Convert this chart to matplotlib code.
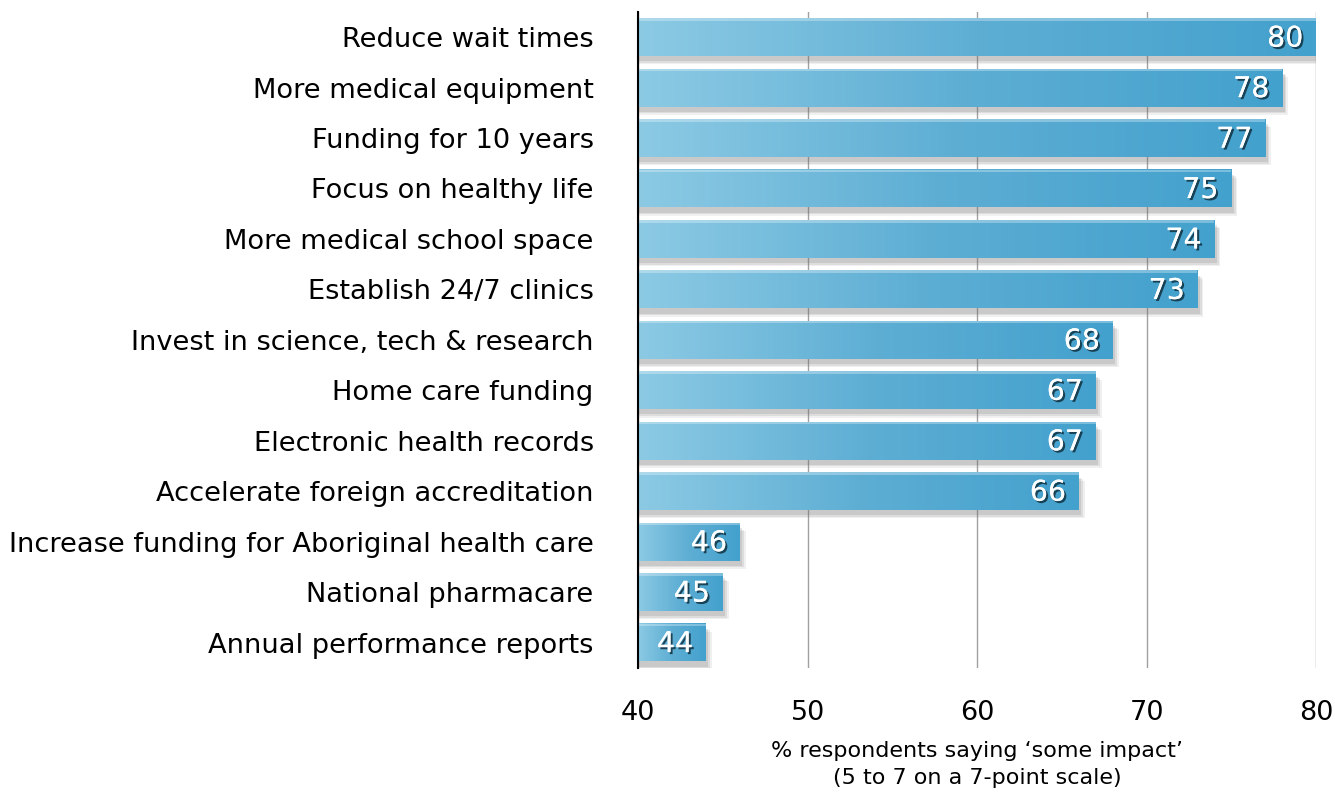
import matplotlib
matplotlib.use("Agg")
import matplotlib.pyplot as plt
import matplotlib.patheffects as pe
import numpy as np
from matplotlib.colors import LinearSegmentedColormap

categories = [
    "Reduce wait times",
    "More medical equipment",
    "Funding for 10 years",
    "Focus on healthy life",
    "More medical school space",
    "Establish 24/7 clinics",
    "Invest in science, tech & research",
    "Home care funding",
    "Electronic health records",
    "Accelerate foreign accreditation",
    "Increase funding for Aboriginal health care",
    "National pharmacare",
    "Annual performance reports",
]
values = [80, 78, 77, 75, 74, 73, 68, 67, 67, 66, 46, 45, 44]
xticks = [40, 50, 60, 70, 80]
xlabel = "% respondents saying \u2018some impact\u2019\n(5 to 7 on a 7-point scale)"

fig = plt.figure(figsize=(13.35, 7.94), dpi=100)
ax = fig.add_axes([0.478, 0.159, 0.9858 - 0.478, 0.985 - 0.159])

xmin, xmax = 40, 80
bar_h = 0.75
cmap = LinearSegmentedColormap.from_list("g", ["#8ccae4", "#5eaed4", "#43a1cd"])

grad = np.linspace(0, 1, 256).reshape(1, -1)
for i, v in enumerate(values):
    # soft shadow
    for k, a in enumerate([0.10, 0.14, 0.18]):
        off = 0.35 - k * 0.1
        ax.add_patch(plt.Rectangle((xmin, i - bar_h / 2 + 0.06 + off * 0.3), v - xmin + off, bar_h,
                                   facecolor="#707070", alpha=a, edgecolor="none", zorder=2))
    ax.imshow(grad, cmap=cmap, aspect="auto",
              extent=(xmin, v, i + bar_h / 2, i - bar_h / 2), zorder=3,
              vmin=0, vmax=1)
    ax.add_patch(plt.Rectangle((xmin, i - bar_h / 2), v - xmin, 0.05,
                               facecolor="white", alpha=0.3, edgecolor="none", zorder=4))
    ax.text(v - 0.75, i + 0.03, str(v), ha="right", va="center", color="white",
            fontsize=20.5, zorder=5,
            path_effects=[pe.withSimplePatchShadow(offset=(1.5, -1.5), shadow_rgbFace="#10303f", alpha=0.85), pe.Normal()])

ax.set_xlim(xmin, xmax)
ax.set_ylim(12.5, -0.5)
ax.set_xticks(xticks)
ax.set_xticklabels([str(t) for t in xticks], fontsize=19.5)
ax.set_yticks(range(len(categories)))
ax.set_yticklabels(categories, fontsize=19.6)
ax.tick_params(axis="both", length=0)
ax.tick_params(axis="y", pad=32)
ax.tick_params(axis="x", pad=23)
ax.grid(axis="x", color="#a0a0a0", linewidth=1, zorder=1)
ax.set_axisbelow(True)
for s in ["top", "right", "bottom"]:
    ax.spines[s].set_visible(False)
ax.spines["left"].set_color("black")
ax.spines["left"].set_linewidth(1.5)
ax.spines["left"].set_zorder(6)
ax.set_xlabel(xlabel, fontsize=16, labelpad=11, linespacing=1.45)

fig.savefig("out.png", dpi=100, facecolor="white")
